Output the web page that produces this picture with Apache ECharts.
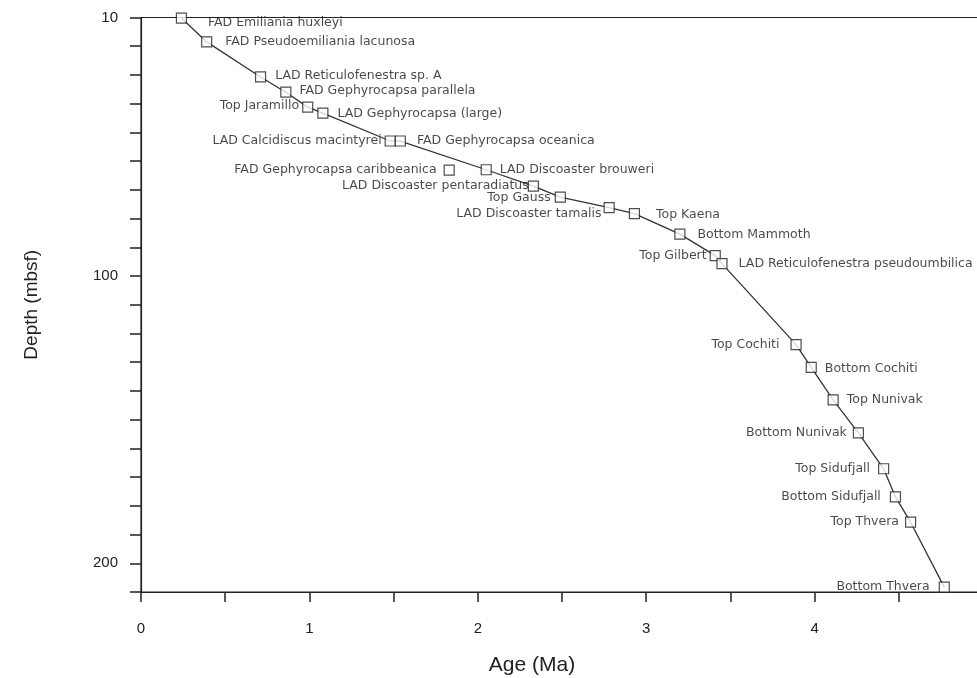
<!DOCTYPE html>
<html>
<head>
<meta charset="utf-8">
<script src="https://cdn.jsdelivr.net/npm/echarts@6/dist/echarts.min.js"></script>
<style>
html,body{margin:0;padding:0;background:#fff;}
#chart{width:977px;height:678px;}
</style>
</head>
<body>
<div id="chart"></div>
<script>
// ---- data ----
var eventNames = [
  "FAD Emiliania huxleyi",
  "FAD Pseudoemiliania lacunosa",
  "LAD Reticulofenestra sp. A",
  "FAD Gephyrocapsa parallela",
  "Top Jaramillo",
  "LAD Gephyrocapsa (large)",
  "LAD Calcidiscus macintyrei",
  "FAD Gephyrocapsa oceanica",
  "FAD Gephyrocapsa caribbeanica",
  "LAD Discoaster brouweri",
  "LAD Discoaster pentaradiatus",
  "Top Gauss",
  "LAD Discoaster tamalis",
  "Top Kaena",
  "Bottom Mammoth",
  "Top Gilbert",
  "LAD Reticulofenestra pseudoumbilica",
  "Top Cochiti",
  "Bottom Cochiti",
  "Top Nunivak",
  "Bottom Nunivak",
  "Top Sidufjall",
  "Bottom Sidufjall",
  "Top Thvera",
  "Bottom Thvera"
];
var ages = [0.24,0.39,0.71,0.86,0.99,1.08,1.48,1.54,1.83,2.05,2.33,2.49,2.78,2.93,3.20,3.41,3.45,3.89,3.98,4.11,4.26,4.41,4.48,4.57,4.77];
var depths = [10.2,18.5,30.7,36.0,41.2,43.3,53.0,53.0,63.1,63.0,68.7,72.5,76.2,78.3,85.4,92.9,95.7,123.9,131.8,143.1,154.6,167.1,176.9,185.7,208.3];
// events not on the age-depth line
var offLine = ["FAD Gephyrocapsa caribbeanica"];
var xTickLabels = [0,1,2,3,4,5];
var yTickLabels = [10,100,200];

// ---- label placement (layout) ----
var placement = {
  "FAD Emiliania huxleyi": ["right", 21, 5],
  "FAD Pseudoemiliania lacunosa": ["right", 13, 0],
  "LAD Reticulofenestra sp. A": ["right", 9, -1],
  "FAD Gephyrocapsa parallela": ["right", 8, -1],
  "Top Jaramillo": ["left", 3, -1],
  "LAD Gephyrocapsa (large)": ["right", 9, 1],
  "LAD Calcidiscus macintyrei": ["left", 3, 0],
  "FAD Gephyrocapsa oceanica": ["right", 11, 0],
  "FAD Gephyrocapsa caribbeanica": ["left", 7, 0],
  "LAD Discoaster brouweri": ["right", 8, 0],
  "LAD Discoaster pentaradiatus": ["left", -1, 0],
  "Top Gauss": ["left", 4, 1],
  "LAD Discoaster tamalis": ["left", 2, 6],
  "Top Kaena": ["right", 16, 1],
  "Bottom Mammoth": ["right", 12, 1],
  "Top Gilbert": ["left", 3, 0],
  "LAD Reticulofenestra pseudoumbilica": ["right", 11, 0],
  "Top Cochiti": ["left", 11, 0],
  "Bottom Cochiti": ["right", 8, 1],
  "Top Nunivak": ["right", 8, 0],
  "Bottom Nunivak": ["left", 6, 0],
  "Top Sidufjall": ["left", 8, 0],
  "Bottom Sidufjall": ["left", 9, 0],
  "Top Thvera": ["left", 6, 0],
  "Bottom Thvera": ["left", 9, 0]
};

var FONT = "'Liberation Sans', Arial, sans-serif";
var LFONT = "'DejaVu Sans', Verdana, sans-serif";
var INK = "#222";

var pointData = eventNames.map(function(n, i){
  var p = placement[n];
  return {
    name: n,
    value: [ages[i], depths[i]],
    label: {show: true, position: p[0], distance: p[1], offset: [0, p[2]]}
  };
});
var lineData = [];
eventNames.forEach(function(n, i){
  if (offLine.indexOf(n) < 0) lineData.push([ages[i], depths[i]]);
});

var chart = echarts.init(document.getElementById('chart'), null, {renderer: 'canvas'});
chart.setOption({
  animation: false,
  backgroundColor: '#fff',
  grid: {
    left: 141, right: -6, top: 17.5, bottom: 86,
    containLabel: false, outerBoundsMode: 'none',
    show: true, borderColor: INK, borderWidth: 1.2, backgroundColor: 'transparent'
  },
  xAxis: {
    type: 'value', min: 0, max: 5, interval: 0.5,
    name: 'Age (Ma)', nameLocation: 'middle', nameGap: 63,
    nameTextStyle: {fontFamily: FONT, fontSize: 21, color: INK, padding: [0, 60, 0, 0]},
    axisLine: {show: true, onZero: false, lineStyle: {color: INK, width: 1.2}},
    axisTick: {show: true, inside: false, length: 10, lineStyle: {color: INK, width: 1.5}},
    axisLabel: {
      margin: 29, fontFamily: FONT, fontSize: 15, color: INK,
      formatter: function(v){ return xTickLabels.indexOf(v) >= 0 ? String(v) : ''; }
    },
    splitLine: {show: false}
  },
  yAxis: {
    type: 'value', inverse: true, min: 10, max: 210, interval: 10,
    name: 'Depth (mbsf)', nameLocation: 'middle', nameGap: 100, nameRotate: 90,
    nameTextStyle: {fontFamily: FONT, fontSize: 19, color: INK},
    axisLine: {show: true, onZero: false, lineStyle: {color: INK, width: 1.2}},
    axisTick: {show: true, inside: false, length: 11, lineStyle: {color: INK, width: 1.5}},
    axisLabel: {
      margin: 23, fontFamily: FONT, fontSize: 15, color: INK,
      formatter: function(v){ return yTickLabels.indexOf(v) >= 0 ? String(v) : ''; }
    },
    splitLine: {show: false}
  },
  series: [
    {
      type: 'line', data: lineData, showSymbol: false, symbol: 'none',
      lineStyle: {color: '#333', width: 1.3}, silent: true, z: 2
    },
    {
      type: 'scatter', data: pointData, symbol: 'rect', symbolSize: 10,
      itemStyle: {color: '#fff', borderColor: INK, borderWidth: 1.2},
      label: {formatter: '{b}', fontFamily: LFONT, fontSize: 12.5, color: '#1a1a1a'},
      z: 3
    }
  ]
});
</script>
</body>
</html>
